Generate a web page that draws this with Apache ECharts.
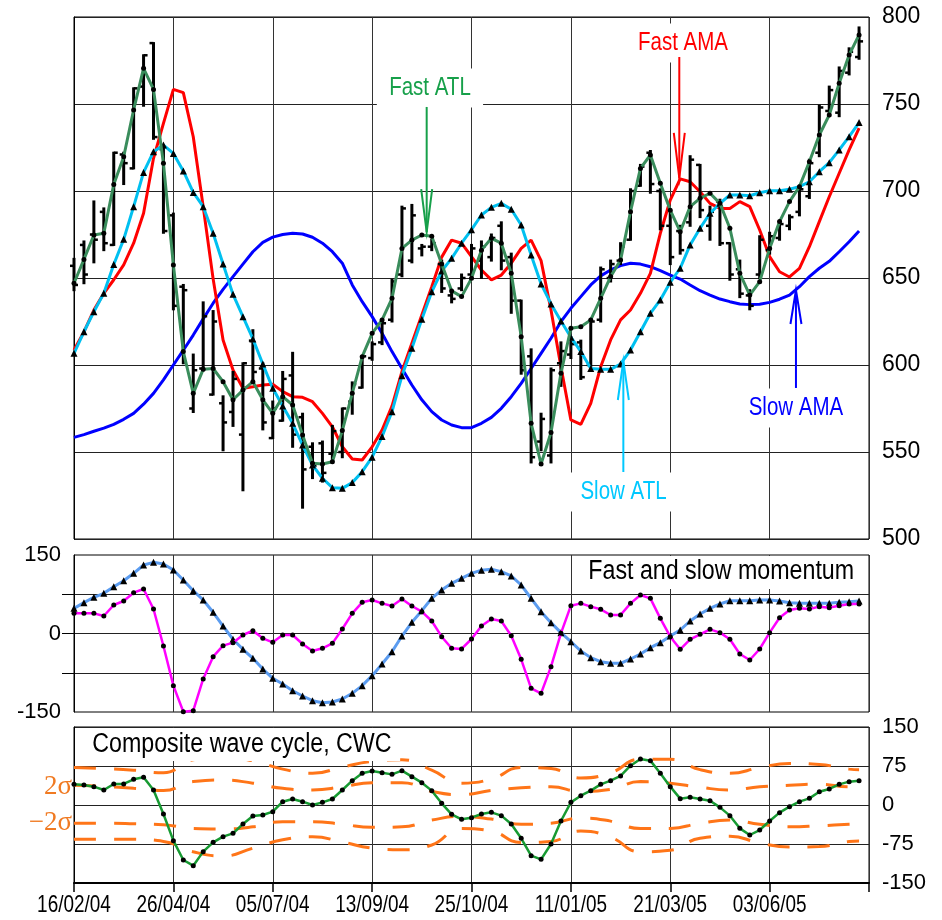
<!DOCTYPE html>
<html>
<head>
<meta charset="utf-8">
<script src="https://cdn.jsdelivr.net/npm/echarts@6/dist/echarts.min.js"></script>
<style>
  html, body { margin: 0; padding: 0; background: #fff; }
  #chart { width: 942px; height: 920px; }
</style>
</head>
<body>
<div id="chart"></div>
<script>
// ---- tick labels -------------------------------------------------------
const dateLabels = ['16/02/04', '26/04/04', '05/07/04', '13/09/04', '25/10/04', '11/01/05', '21/03/05', '03/06/05'];

// ---- weekly price bars (high, low, open, close) ---------------------------
const barHigh  = [661,671,694,690,722,722,759,778,785,726, 687,646,606,636,631,582,596,601,620,601,
                  579,596,607,572,555,556,565,575,590,605, 613,625,649,691,692,669,672,660,642,652,
                  669,671,675,682,664,637,609,572,598,613, 616,614,626,656,660,670,701,715,723,701,
                  689,680,720,715,691,695,670,660,643,674, 676,682,686,703,718,749,760,771,782,794];
const barLow   = [643,647,659,666,669,704,713,749,730,676, 632,601,573,597,583,551,565,528,591,563,
                  558,568,553,518,535,533,544,547,572,587, 603,612,625,651,659,663,666,642,636,643,
                  650,650,660,655,630,595,544,551,544,588, 604,592,597,625,648,658,672,703,699,678,
                  658,664,680,685,672,669,649,639,632,650, 664,672,678,686,696,720,744,743,767,776];
const barOpen  = [657,669,675,688,669,721,713,760,785,724, 686,645,575,598,583,578,573,560,614,598,
                  558,568,594,570,553,555,549,550,579,587, 604,613,626,652,660,667,668,658,640,644,
                  652,660,662,680,662,637,605,556,548,601, 606,613,600,626,650,660,672,703,722,700,
                  680,677,682,715,680,694,670,655,640,652, 666,673,680,688,697,722,746,745,768,777];
const barClose = [646,652,672,670,722,716,759,778,731,677, 634,643,597,628,625,567,592,601,596,567,
                  575,592,560,540,542,538,562,575,589,605, 612,624,648,690,686,668,670,644,638,650,
                  667,668,673,660,637,597,547,569,597,608, 612,593,625,655,658,668,700,714,704,680,
                  662,666,718,689,688,670,652,641,634,672, 674,681,685,701,716,748,758,769,780,786];

// ---- trend lines on price --------------------------------------------------
const fastATL = [647,660.7,674.7,675.7,703.8,719.7,746.6,770.5,758.4,715.9, 657.5,607.7,583.7,597.5,598,590.4,580,585.6,590.4,580,
                 572.2,581.8,577,559.8,543.5,543.1,544.4,562.3,583.7,604.8, 618.2,625.9,638.3,667,671.8,674.7,674,658,642.6,639.3,
                 649.8,666,672.8,670,652.7,616.3,566.5,543.1,561.2,595.2, 621.1,622,625.9,638.3,650.8,660.3,688.1,713,720.7,704.4,
                 689,676.6,691,695.8,698.7,692.9,678.6,652.7,640.2,647.9, 667,682.4,693.9,702.5,716.8,732.2,743.7,761.9,778.2,789.7];
const slowATL = [606.7,619.1,630.6,641.2,657.8,672.2,691,710.7,722.6,726.4, 721.6,711.5,699.2,691,675.7,658,640.6,627.8,615,600.6,
                 586.6,576.4,566.5,554,542.5,534.9,529.5,529.1,532.4,538.7, 547,558.9,573.2,593.8,609.6,626.3,642.1,654,661.3,670,
                 677.8,686.2,690.6,692.9,689.5,680.5,663.2,646.6,635.1,625.3, 616,607.7,598,597.5,597.5,600.6,608.6,619.1,629.7,637.4,
                 647.5,655.6,669,678.6,687.2,692.9,697.7,697.7,697.3,699, 700.2,700.2,701,702.5,705.3,711.1,716.3,723.6,731.2,739.3];
const fastAMA = [608.6,619,631.6,641.2,649,657.5,670,687.2,718.8,738.9, 758.4,756.5,731.2,691,649.5,614.4,597.1,586.6,587.5,588.5,
                 588.9,584.7,581.8,581.4,578.9,572.2,564.5,553,546,545.4, 553,562.6,576.4,596.2,612.5,628.7,645,662,671.8,670,
                 662.3,654.6,648.9,651.7,658.5,667,671.8,660,631.6,599, 568.4,565.9,577.9,599,614.4,625.9,631.6,641.2,652.7,675.7,
                 694.8,707,705.3,699.6,692.9,690,690,693.9,691,677.6, 662.3,653.6,650.6,655.6,668,682.4,696.7,710.2,723.6,736.1];
const slowAMA = [558.4,560,561.9,563.7,565.9,568.8,572.2,577.5,583.7,591.5, 600,608.5,617.2,626.5,635.5,643.5,650.8,658,665.1,670.5,
                 673.5,675,675.7,675.3,673.4,670,665.1,658.5,646,636.4, 627.8,618.2,607.7,598,588.5,580,573.2,568.4,565.5,564,
                 564,566.5,569.9,575.1,581.8,589.4,598,606.7,615.4,624.9, 632.6,639.3,646,651.2,654.6,657.1,658.5,658,656.5,654.2,
                 651.7,649.4,646,642.7,640.2,637.9,636.4,635.1,634.7,634.9, 636,637.8,640.2,645,650.8,655.6,659.6,665.1,670.8,677];

// ---- momentum ---------------------------------------------------------------
const momFast = [38.5,38.5,38.5,33.4,54.5,62.1,78,85,46.8,-23.9, -99.7,-149.4,-147.5,-86.9,-44.3,-23.2,-17.5,-2.9,5.4,-9.2,
                 -16.9,-2.9,-2.9,-20.1,-33.4,-28.3,-18.8,8.6,38.5,59.6, 64,57.6,52.6,65.9,52.6,41.7,23.9,-6.1,-28.3,-29.6,
                 -10.5,14.3,27.7,23.9,-4.2,-49.4,-104.8,-114.3,-63.4,0.3, 53.2,57.6,51.3,46.2,35.4,35.4,57.6,73.6,67.2,29,
                 -6.1,-30.2,-11.1,-1.6,8,1.6,-11.1,-39.2,-50.6,-29.6, 1.6,30.2,44.9,48.1,46.8,51.3,49.4,53.2,56.4,56.4];
const momSlow = [48.1,58.9,69.2,76.8,89.4,100.9,115,130.9,136,132.8, 121.3,102.2,81.8,64,40.5,14.3,-11.1,-30.2,-47.4,-67.8,
                 -85.6,-96.5,-109.3,-119.4,-128.4,-132.2,-130.9,-125.2,-114.3,-99.7, -80.6,-58.3,-34.8,-4.8,21.4,43.6,67.3,83.1,95.9,105.5,
                 115,121,122.7,118.2,109.9,92.7,67.2,41.7,20.7,1.6, -15.6,-33.4,-46.1,-53.8,-57,-57,-48.7,-39.2,-27.1,-17.5,
                 -4.8,6.7,23.9,37.3,48.1,56.4,62.8,62.8,62.8,64, 64,62.1,58.9,57.6,57.6,57.6,57.6,59.6,60.8,62.1];

// ---- composite wave cycle and its bands --------------------------------
const cwc = [39.7,38.5,35.3,28.8,40.4,40.4,49.4,53.2,28.8,-17.3, -68.6,-105.8,-116.7,-89.7,-71.8,-60.9,-54.5,-36.5,-21.2,-19.2,
             -12.8,6.4,11.5,6.4,0,5.1,11.5,28.8,46.8,60.9, 65.4,62.2,58.9,66,54.5,42.9,27.6,3.2,-17.9,-27.6,
             -24.4,-17.3,-14.1,-20.5,-36.5,-64.1,-97.4,-104.5,-75,-30.8, 5.1,17.9,27.6,39.7,46.8,55.8,75.6,88.5,85.3,60.9,
             35.3,12.2,14.7,11.5,8.3,-4.5,-20.5,-44.9,-57.7,-48.1, -30.8,-14.7,-3.2,6.4,12.8,25.6,30.8,39.7,44.9,46.8];
const bandIdx        = [0,3,6,9,12,15,18,21,24,27,30,33,36,39,42,45,48,51,54,57,60,63,66,69,72,75,78,79];
const bandUpperOuter = [72,70,67,62,87,92,85,69,61,73,84,87,67,42,50,72,70,52,62,88,88,68,61,72,80,78,69,68];
const bandUpperInner = [38,36,32,28,45,48,42,32,29,35,43,43,26,20,28,33,35,26,30,45,42,34,29,35,38,40,35,35];
const bandLowerInner = [-35,-35,-36,-38,-45,-46,-42,-32,-32,-37,-43,-42,-29,-22,-27,-37,-35,-25,-31,-45,-45,-35,-29,-37,-42,-40,-37,-36];
const bandLowerOuter = [-66,-66,-66,-70,-90,-98,-83,-67,-61,-71,-83,-86,-77,-45,-50,-72,-70,-50,-62,-90,-87,-64,-60,-73,-81,-80,-70,-69];

// ---- call-outs on the price panel (data coordinates) ---------------------
const callouts = [
  { text: 'Fast ATL', color: '#17a04a', x: 35.49, textX: 35.82, textY: 759.2, tailY: 748.3, tipY: 676.4, head: 43 },
  { text: 'Fast AMA', color: '#ff0000', x: 60.91, textX: 61.28, textY: 785.1, tailY: 777.0, tipY: 707.5, head: 45 },
  { text: 'Slow ATL', color: '#00c8ff', x: 55.28, textX: 55.30, textY: 527.0, tailY: 538.5, tipY: 602.3, head: 39 },
  { text: 'Slow AMA', color: '#0000ff', x: 72.65, textX: 72.65, textY: 575.3, tailY: 586.8, tipY: 643.1, head: 34 }
];

const SANS = "'Liberation Sans', Arial, sans-serif";
const SERIF = "'Liberation Serif', 'DejaVu Serif', serif";
const SQUEEZE = 0.82;   // the chart's lettering is set horizontally condensed

const pairs = arr => arr.map((v, i) => [i, v]);
const bandPairs = arr => bandIdx.map((x, k) => [x, arr[k]]);
const bars = barHigh.map((h, i) => [i, h, barLow[i], barOpen[i], barClose[i]]);

function renderBar(params, api) {
  const x = api.value(0);
  const hi = api.coord([x, api.value(1)]);
  const lo = api.coord([x, api.value(2)]);
  const op = api.coord([x, api.value(3)]);
  const cl = api.coord([x, api.value(4)]);
  const t = 4;
  return {
    type: 'group',
    children: [
      { type: 'line', shape: { x1: hi[0], y1: hi[1] - 1, x2: lo[0], y2: lo[1] + 1 }, style: { stroke: '#000', lineWidth: 3 } },
      { type: 'line', shape: { x1: op[0] - t, y1: op[1], x2: op[0], y2: op[1] }, style: { stroke: '#000', lineWidth: 2.5 } },
      { type: 'line', shape: { x1: cl[0], y1: cl[1], x2: cl[0] + t, y2: cl[1] }, style: { stroke: '#000', lineWidth: 2.5 } }
    ]
  };
}

const gridLine = { show: true, lineStyle: { color: '#222', width: 1 } };
function xAxisFor(gridIndex, isBottom) {
  return {
    type: 'value', gridIndex, min: 0, max: 80, interval: 10,
    splitLine: { show: true, lineStyle: { color: '#333', width: 1 } },
    axisLine: { show: isBottom, onZero: false, lineStyle: { color: '#000', width: 2 } },
    axisTick: { show: isBottom, length: 9, lineStyle: { color: '#000', width: 1.5 } },
    axisLabel: { show: false }
  };
}

function dashedBand(arr) {
  return {
    type: 'line', xAxisIndex: 2, yAxisIndex: 2, data: bandPairs(arr), smooth: true,
    showSymbol: false, z: 3,
    lineStyle: { color: '#ff7518', width: 3, type: [22, 18] }
  };
}

const chart = echarts.init(document.getElementById('chart'));

chart.setOption({
  animation: false,
  backgroundColor: '#fff',
  grid: [
    { left: 74, top: 17, width: 795, height: 522, show: true, borderColor: '#000', borderWidth: 1 },
    { left: 74, top: 555, width: 795, height: 157, show: true, borderColor: '#000', borderWidth: 1 },
    { left: 74, top: 727, width: 795, height: 156, show: true, borderColor: '#000', borderWidth: 1 }
  ],
  xAxis: [xAxisFor(0, false), xAxisFor(1, false), xAxisFor(2, true)],
  yAxis: [
    {
      type: 'value', gridIndex: 0, position: 'right', min: 500, max: 800, interval: 50,
      splitLine: gridLine, axisLine: { show: true, lineStyle: { color: '#000' } }, axisTick: { show: false },
      axisLabel: { color: '#000', fontSize: 23, fontFamily: SANS, margin: 13 }
    },
    {
      type: 'value', gridIndex: 1, position: 'left', min: -150, max: 150, interval: 75,
      splitLine: gridLine, axisLine: { show: true, lineStyle: { color: '#000' } },
      axisTick: { show: true, length: 12, customValues: [-75, 0, 75], lineStyle: { color: '#000' } },
      axisLabel: { color: '#000', fontSize: 22, fontFamily: SANS, margin: 13, customValues: [-150, 0, 150] }
    },
    {
      type: 'value', gridIndex: 2, position: 'right', min: -150, max: 150, interval: 75,
      splitLine: gridLine, axisLine: { show: true, lineStyle: { color: '#000' } }, axisTick: { show: false },
      axisLabel: { color: '#000', fontSize: 22, fontFamily: SANS, margin: 13 }
    }
  ],
  series: [
    // price panel
    { type: 'line', name: 'Slow AMA', xAxisIndex: 0, yAxisIndex: 0, data: pairs(slowAMA), showSymbol: false, z: 2,
      lineStyle: { color: '#0000ff', width: 3 } },
    { type: 'line', name: 'Fast AMA', xAxisIndex: 0, yAxisIndex: 0, data: pairs(fastAMA), showSymbol: false, z: 3,
      lineStyle: { color: '#ff0000', width: 3 } },
    { type: 'custom', name: 'Price', xAxisIndex: 0, yAxisIndex: 0, data: bars, renderItem: renderBar, z: 4,
      encode: { x: 0, y: [1, 2, 3, 4] } },
    { type: 'line', name: 'Slow ATL', xAxisIndex: 0, yAxisIndex: 0, data: pairs(slowATL), z: 5,
      symbol: 'triangle', symbolSize: 7, itemStyle: { color: '#000' },
      lineStyle: { color: '#00c0f0', width: 3 } },
    { type: 'line', name: 'Fast ATL', xAxisIndex: 0, yAxisIndex: 0, data: pairs(fastATL), z: 6,
      symbol: 'circle', symbolSize: 5, itemStyle: { color: '#000' },
      lineStyle: { color: '#3a8d5c', width: 3 } },
    // momentum panel
    { type: 'line', name: 'Slow momentum', xAxisIndex: 1, yAxisIndex: 1, data: pairs(momSlow), z: 4,
      symbol: 'triangle', symbolSize: 7, itemStyle: { color: '#000' },
      lineStyle: { color: '#5b9cf0', width: 3 } },
    { type: 'line', name: 'Fast momentum', xAxisIndex: 1, yAxisIndex: 1, data: pairs(momFast), z: 5,
      symbol: 'circle', symbolSize: 5, itemStyle: { color: '#000' },
      lineStyle: { color: '#ff00ff', width: 2.5 } },
    // CWC panel
    dashedBand(bandUpperOuter),
    dashedBand(bandUpperInner),
    dashedBand(bandLowerInner),
    dashedBand(bandLowerOuter),
    { type: 'line', name: 'CWC', xAxisIndex: 2, yAxisIndex: 2, data: pairs(cwc), z: 5,
      symbol: 'circle', symbolSize: 5, itemStyle: { color: '#000' },
      lineStyle: { color: '#179a32', width: 2.5 } }
  ]
});

// ---- date labels, panel titles, sigma marks and call-outs ----------------
function buildGraphics() {
  const els = [];
  const toPx = (xi, yi, pt) => chart.convertToPixel({ xAxisIndex: xi, yAxisIndex: yi }, pt);

  const momRect = chart.getModel().getComponent('grid', 1).coordinateSystem.getRect();
  const cwcRect = chart.getModel().getComponent('grid', 2).coordinateSystem.getRect();

  dateLabels.forEach((label, k) => {
    const p = toPx(2, 2, [k * 10, -150]);
    els.push({
      type: 'text', z: 60, x: p[0], y: p[1] + 10, scaleX: 0.79,
      style: { text: label, fill: '#000', font: '24px ' + SANS, align: 'center', verticalAlign: 'top' }
    });
  });

  els.push({
    type: 'text', z: 60, x: momRect.x + momRect.width - 8, y: momRect.y + 1, scaleX: 0.86,
    style: { text: 'Fast and slow momentum', fill: '#000', font: '27px ' + SANS,
             align: 'right', verticalAlign: 'top', backgroundColor: '#fff', padding: [2, 8, 4, 12] }
  });
  els.push({
    type: 'text', z: 60, x: cwcRect.x + 1, y: cwcRect.y + 1, scaleX: 0.86,
    style: { text: 'Composite wave cycle, CWC', fill: '#000', font: '27px ' + SANS,
             align: 'left', verticalAlign: 'top', backgroundColor: '#fff', padding: [3, 10, 3, 20] }
  });

  [['2σ', 35], ['\u22122σ', -35]].forEach(([label, v]) => {
    const p = toPx(2, 2, [0, v]);
    els.push({
      type: 'text', z: 60, x: p[0] - 2, y: p[1],
      style: { text: label, fill: '#f07a22', font: '27px ' + SERIF, align: 'right', verticalAlign: 'middle' }
    });
  });

  callouts.forEach(c => {
    const tail = toPx(0, 0, [c.x, c.tailY]);
    const tip = toPx(0, 0, [c.x, c.tipY]);
    const txt = toPx(0, 0, [c.textX, c.textY]);
    const dir = Math.sign(tip[1] - tail[1]);
    const half = 5.5;
    els.push({
      type: 'text', z: 61, x: txt[0], y: txt[1], scaleX: SQUEEZE,
      style: { text: c.text, fill: c.color, font: '25px ' + SANS, align: 'center', verticalAlign: 'middle',
               backgroundColor: '#fff', padding: [7, 15] }
    });
    els.push({
      type: 'line', z: 62, shape: { x1: tail[0], y1: tail[1], x2: tip[0], y2: tip[1] },
      style: { stroke: c.color, lineWidth: 2 }
    });
    els.push({
      type: 'polyline', z: 62,
      shape: { points: [[tip[0] - half, tip[1] - dir * c.head], [tip[0], tip[1]], [tip[0] + half, tip[1] - dir * c.head]] },
      style: { stroke: c.color, lineWidth: 2, fill: null }
    });
  });
  return els;
}

chart.setOption({ graphic: buildGraphics() });
</script>
</body>
</html>
